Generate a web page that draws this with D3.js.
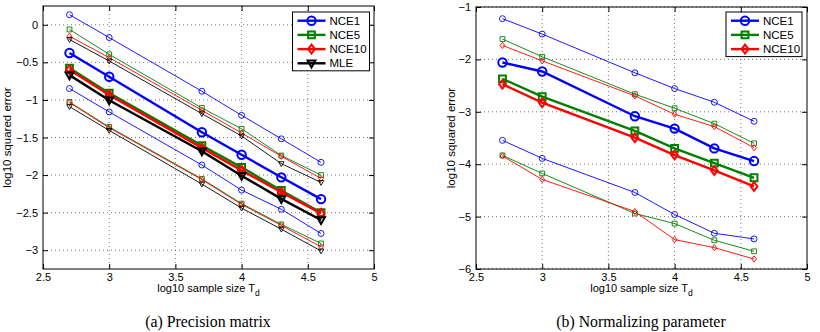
<!DOCTYPE html>
<html>
<head>
<meta charset="utf-8">
<script src="https://cdn.jsdelivr.net/npm/d3@7"></script>
<style>
  body { margin: 0; background: #fff; }
  svg { display: block; }
</style>
</head>
<body>
<svg id="chart" width="820" height="332"></svg>
<script>
// log10 of sample size
const sampleSizes = [2.7, 3, 3.7, 4, 4.3, 4.6];
const xTicks = [2.5, 3, 3.5, 4, 4.5, 5];
const precTicks = [-3, -2.5, -2, -1.5, -1, -0.5, 0];
const normTicks = [-6, -5, -4, -3, -2, -1];

// (a) precision matrix: upper / median / lower
const precNce1Hi = [0.134, -0.17, -0.884, -1.205, -1.518, -1.83];
const precNce1 = [-0.375, -0.692, -1.43, -1.73, -2.03, -2.32];
const precNce1Lo = [-0.848, -1.16, -1.866, -2.2, -2.455, -2.777];
const precNce5Hi = [-0.062, -0.393, -1.107, -1.384, -1.74, -2.0];
const precNce5 = [-0.576, -0.91, -1.607, -1.897, -2.205, -2.5];
const precNce5Lo = [-1.027, -1.36, -2.05, -2.38, -2.656, -2.91];
const precNce10Hi = [-0.152, -0.437, -1.138, -1.44, -1.75, -2.045];
const precNce10 = [-0.598, -0.933, -1.638, -1.937, -2.228, -2.51];
const precNce10Lo = [-1.036, -1.37, -2.06, -2.39, -2.67, -2.955];
const precMleHi = [-0.196, -0.482, -1.183, -1.48, -1.848, -2.098];
const precMle = [-0.67, -1.004, -1.683, -2.009, -2.317, -2.598];
const precMleLo = [-1.089, -1.406, -2.12, -2.44, -2.72, -3.01];

// (b) normalizing parameter
const normNce1Hi = [-1.223, -1.517, -2.256, -2.556, -2.818, -3.181];
const normNce1 = [-2.059, -2.231, -3.085, -3.321, -3.698, -3.94];
const normNce1Lo = [-3.545, -3.889, -4.54, -4.96, -5.318, -5.426];
const normNce5Hi = [-1.612, -1.95, -2.664, -2.932, -3.226, -3.602];
const normNce5 = [-2.371, -2.709, -3.366, -3.698, -3.978, -4.259];
const normNce5Lo = [-3.832, -4.176, -4.941, -5.133, -5.452, -5.662];
const normNce10Hi = [-1.733, -2.027, -2.696, -3.047, -3.283, -3.685];
const normNce10 = [-2.473, -2.824, -3.494, -3.825, -4.119, -4.425];
const normNce10Lo = [-3.844, -4.291, -4.903, -5.439, -5.592, -5.809];

const styles = {
  NCE1: { color: '#0000ff', marker: 'circle' },
  NCE5: { color: '#008000', marker: 'square' },
  NCE10: { color: '#ff0000', marker: 'diamond' },
  MLE: { color: '#000000', marker: 'triangle' }
};

const svg = d3.select('#chart');
const font = 'Liberation Sans, Arial, Helvetica, sans-serif';

// marker path centred on 0,0, s = half size
function markerPath(type, s) {
  if (type === 'circle') return d3.arc()({ innerRadius: 0, outerRadius: s, startAngle: 0, endAngle: 2 * Math.PI });
  if (type === 'square') return `M${-s},${-s}H${s}V${s}H${-s}Z`;
  if (type === 'diamond') return `M0,${-s * 1.3}L${s},0L0,${s * 1.3}L${-s},0Z`;
  return `M${-s * 1.15},${-s * 0.8}H${s * 1.15}L0,${s * 1.2}Z`;
}

function drawLine(g, x, y, vals, st, thick) {
  const line = d3.line().x((d, i) => x(sampleSizes[i])).y(d => y(d));
  g.append('path').datum(vals)
    .attr('d', line)
    .attr('fill', 'none')
    .attr('stroke', st.color)
    .attr('stroke-width', thick ? 2.4 : 0.9);
  const s = thick ? (st.marker === 'circle' ? 4.2 : 3.4) : (st.marker === 'circle' ? 3 : 2.4);
  g.selectAll(null).data(vals).enter().append('path')
    .attr('d', markerPath(st.marker, s))
    .attr('transform', (d, i) => `translate(${x(sampleSizes[i])},${y(d)})`)
    .attr('fill', 'none')
    .attr('stroke', st.color)
    .attr('stroke-width', thick ? 2 : 0.9);
}

function drawPanel(opts) {
  const x = d3.scaleLinear().domain([2.5, 5]).range([opts.left, opts.right]);
  const y = d3.scaleLinear().domain(opts.yDomain).range([opts.bottom, opts.top]);
  const g = svg.append('g');

  // grid
  g.selectAll(null).data(xTicks.slice(1, -1)).enter().append('line')
    .attr('x1', d => x(d)).attr('x2', d => x(d))
    .attr('y1', opts.top).attr('y2', opts.bottom)
    .attr('stroke', '#555').attr('stroke-width', 0.8).attr('stroke-dasharray', '1,3');
  g.selectAll(null).data(opts.yTicks).enter().append('line')
    .attr('x1', opts.left).attr('x2', opts.right)
    .attr('y1', d => y(d)).attr('y2', d => y(d))
    .attr('stroke', '#555').attr('stroke-width', 0.8).attr('stroke-dasharray', '1,3');

  // axes, ticks inward on all four sides
  const fmt = d3.format('');
  const ax = [
    g.append('g').attr('transform', `translate(0,${opts.bottom})`)
      .call(d3.axisBottom(x).tickValues(xTicks).tickSize(-5).tickPadding(4).tickFormat(fmt)),
    g.append('g').attr('transform', `translate(0,${opts.top})`)
      .call(d3.axisTop(x).tickValues(xTicks).tickSize(-5).tickFormat('')),
    g.append('g').attr('transform', `translate(${opts.left},0)`)
      .call(d3.axisLeft(y).tickValues(opts.yTicks).tickSize(-5).tickPadding(5).tickFormat(fmt)),
    g.append('g').attr('transform', `translate(${opts.right},0)`)
      .call(d3.axisRight(y).tickValues(opts.yTicks).tickSize(-5).tickFormat(''))
  ];
  ax.forEach(a => {
    a.select('.domain').remove();
    a.selectAll('line').attr('stroke', '#000');
    a.selectAll('text').attr('font-family', font).attr('font-size', 11).attr('fill', '#000');
  });

  // series
  opts.series.forEach(s => {
    const st = styles[s.name];
    drawLine(g, x, y, s.hi, st, false);
    drawLine(g, x, y, s.lo, st, false);
    drawLine(g, x, y, s.mid, st, true);
  });

  // frame
  g.append('rect')
    .attr('x', opts.left).attr('y', opts.top)
    .attr('width', opts.right - opts.left).attr('height', opts.bottom - opts.top)
    .attr('fill', 'none').attr('stroke', '#000').attr('stroke-width', 1);

  // axis labels
  const xl = g.append('text')
    .attr('x', (opts.left + opts.right) / 2).attr('y', opts.bottom + 23)
    .attr('text-anchor', 'middle').attr('font-family', font).attr('font-size', 11);
  xl.append('tspan').text('log10 sample size T');
  xl.append('tspan').attr('font-size', 8.5).attr('dy', 4).text('d');

  g.append('text')
    .attr('transform', `translate(${opts.yLabelX},${(opts.top + opts.bottom) / 2}) rotate(-90)`)
    .attr('text-anchor', 'middle').attr('font-family', font).attr('font-size', 11.5)
    .text('log10 squared error');

  // legend
  const lg = opts.legend;
  g.append('rect')
    .attr('x', lg.x).attr('y', lg.y).attr('width', lg.w).attr('height', 14.2 * opts.series.length + 2)
    .attr('fill', '#fff').attr('stroke', '#000').attr('stroke-width', 1);
  opts.series.forEach((s, i) => {
    const st = styles[s.name];
    const cy = lg.y + 8.7 + i * 14.2;
    g.append('line')
      .attr('x1', lg.x + 5).attr('x2', lg.x + 33)
      .attr('y1', cy).attr('y2', cy)
      .attr('stroke', st.color).attr('stroke-width', 2.4);
    g.append('path')
      .attr('d', markerPath(st.marker, st.marker === 'circle' ? 4.2 : 3.4))
      .attr('transform', `translate(${lg.x + 19},${cy})`)
      .attr('fill', 'none').attr('stroke', st.color).attr('stroke-width', 2);
    g.append('text')
      .attr('x', lg.x + 37).attr('y', cy).attr('dy', '0.36em')
      .attr('font-family', font).attr('font-size', 11.5)
      .text(s.name);
  });

  // caption
  svg.append('text')
    .attr('x', opts.captionX).attr('y', 327)
    .attr('text-anchor', 'middle')
    .attr('font-family', 'Liberation Serif, Times New Roman, serif').attr('font-size', 15.8)
    .text(opts.caption);
}

drawPanel({
  left: 43, right: 374, top: 6, bottom: 269,
  yDomain: [-3.25, 0.25], yTicks: precTicks, yLabelX: 11,
  legend: { x: 292.5, y: 12, w: 77 },
  caption: '(a) Precision matrix', captionX: 208,
  series: [
    { name: 'NCE1', hi: precNce1Hi, mid: precNce1, lo: precNce1Lo },
    { name: 'NCE5', hi: precNce5Hi, mid: precNce5, lo: precNce5Lo },
    { name: 'NCE10', hi: precNce10Hi, mid: precNce10, lo: precNce10Lo },
    { name: 'MLE', hi: precMleHi, mid: precMle, lo: precMleLo }
  ]
});

drawPanel({
  left: 476, right: 807, top: 7, bottom: 269,
  yDomain: [-6, -1], yTicks: normTicks, yLabelX: 455,
  legend: { x: 726, y: 12, w: 76 },
  caption: '(b) Normalizing parameter', captionX: 641,
  series: [
    { name: 'NCE1', hi: normNce1Hi, mid: normNce1, lo: normNce1Lo },
    { name: 'NCE5', hi: normNce5Hi, mid: normNce5, lo: normNce5Lo },
    { name: 'NCE10', hi: normNce10Hi, mid: normNce10, lo: normNce10Lo }
  ]
});
</script>
</body>
</html>
